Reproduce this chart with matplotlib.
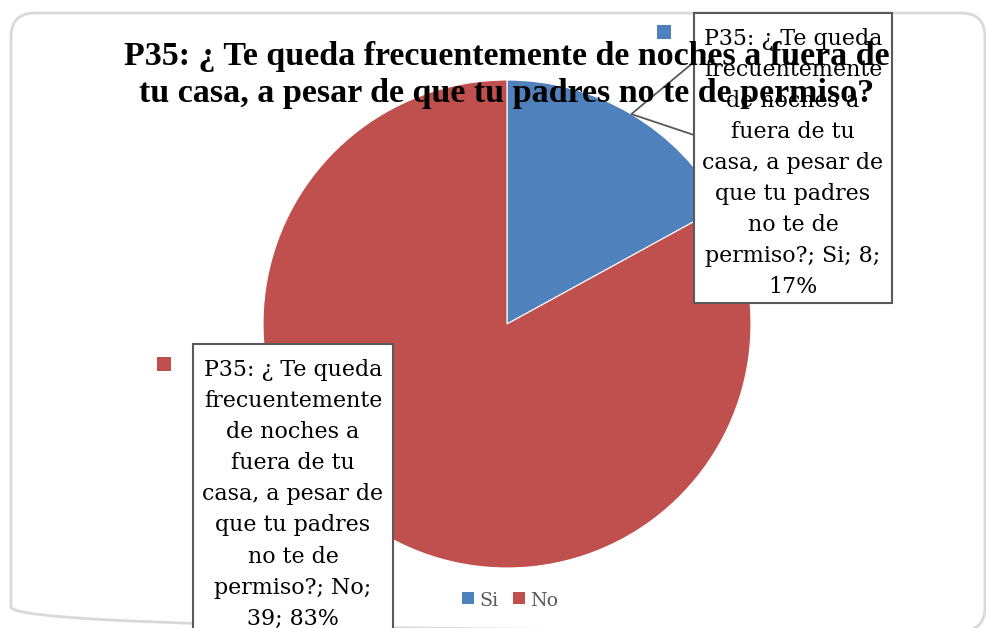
import textwrap
import matplotlib
matplotlib.use("Agg")
import matplotlib.pyplot as plt
from matplotlib.patches import FancyBboxPatch, Rectangle
import numpy as np

# --- data -------------------------------------------------------------
categories = ["Si", "No"]
counts = [8, 39]
colors = ["#4F81BD", "#C0504D"]
title_lines = ["P35: ¿ Te queda frecuentemente de noches a fuera de",
               "tu casa, a pesar de que tu padres no te de permiso?"]
question_lines = ["P35: ¿ Te queda", "frecuentemente", "de noches a",
                  "fuera de tu", "casa, a pesar de", "que tu padres",
                  "no te de"]

W, H = 987, 628
SERIF = "DejaVu Serif"
TITLE_FONT = "Liberation Serif"

fig = plt.figure(figsize=(W / 100, H / 100), dpi=100)
fig.patch.set_facecolor("white")
renderer = fig.canvas.get_renderer()

# overlay axes in pixel coordinates (y grows downward)
ov = fig.add_axes([0, 0, 1, 1], zorder=5)
ov.set_xlim(0, W)
ov.set_ylim(H, 0)
ov.axis("off")


def fit_size(text, target_px, **kw):
    t = fig.text(0, 0, text, fontsize=10, **kw)
    w = t.get_window_extent(renderer).width
    t.remove()
    return 10 * target_px / w


# chart frame
ov.add_patch(FancyBboxPatch((11, 13), 974, 618,
                            boxstyle="round,pad=0,rounding_size=24",
                            fc="none", ec="#D9D9D9", lw=2, zorder=1))

# --- pie ----------------------------------------------------------------
cx, cy, R = 507, 324, 244
pax = fig.add_axes([(cx - R) / W, (H - cy - R) / H, 2 * R / W, 2 * R / H],
                   zorder=1)
pax.pie(counts, colors=colors, startangle=90, counterclock=False,
        radius=1, wedgeprops=dict(edgecolor="white", linewidth=0.8))
pax.set_xlim(-1, 1)
pax.set_ylim(-1, 1)
pax.set_aspect("equal")
pax.axis("off")

total = sum(counts)
pcts = [round(100 * c / total) for c in counts]

# --- data label callouts -------------------------------------------------
lab_size = fit_size("frecuentemente", 179, family=SERIF)
boxes = [  # x0, y0, x1, y1, first baseline, line step, key square
    dict(box=(694, 13, 892, 303), base=45, step=31.0, key=(657, 25)),
    dict(box=(193, 344, 393, 660), base=376, step=31.1, key=(157, 357)),
]

for cat, n, p, col, spec in zip(categories, counts, pcts, colors, boxes):
    x0, y0, x1, y1 = spec["box"]
    tail = textwrap.wrap(f"permiso?; {cat}; {n}; {p}%", 16)
    lines = question_lines + tail
    ov.add_patch(Rectangle((x0, y0), x1 - x0, y1 - y0, fc="white",
                           ec="#595959", lw=1.5, zorder=3))
    xc = (x0 + x1) / 2
    for k, ln in enumerate(lines):
        ov.text(xc, spec["base"] + k * spec["step"], ln, family=SERIF,
                fontsize=lab_size, ha="center", va="baseline",
                color="black", zorder=4)
    kx, ky = spec["key"]
    ov.add_patch(Rectangle((kx, ky), 14, 14, fc=col, ec="none", zorder=4))

# pointer from the "Si" callout to the middle of its slice
mid = np.deg2rad(90 - 360 * counts[0] / total / 2)
tip = (cx + R * np.cos(mid), cy - R * np.sin(mid))
ov.plot([694, tip[0], 694], [62, tip[1], 135], color="#595959", lw=1.3,
        zorder=4, solid_joinstyle="miter")

# --- title ----------------------------------------------------------------
t_size = fit_size(title_lines[0], 772, family=TITLE_FONT, fontweight="bold")
for ln, yb in zip(title_lines, [65, 102]):
    ov.text(507, yb, ln, family=TITLE_FONT, fontweight="bold",
            fontsize=t_size, ha="center", va="baseline", color="black",
            zorder=6)

# --- legend ------------------------------------------------------------------
leg_size = fit_size("No", 28, family=SERIF)
leg_x = [462, 513]
for cat, col, lx in zip(categories, colors, leg_x):
    ov.add_patch(Rectangle((lx, 592), 12, 12, fc=col, ec="none", zorder=4))
    ov.text(lx + 17, 606, cat, family=SERIF, fontsize=leg_size,
            ha="left", va="baseline", color="#595959", zorder=4)

fig.savefig("out.png", dpi=100)
